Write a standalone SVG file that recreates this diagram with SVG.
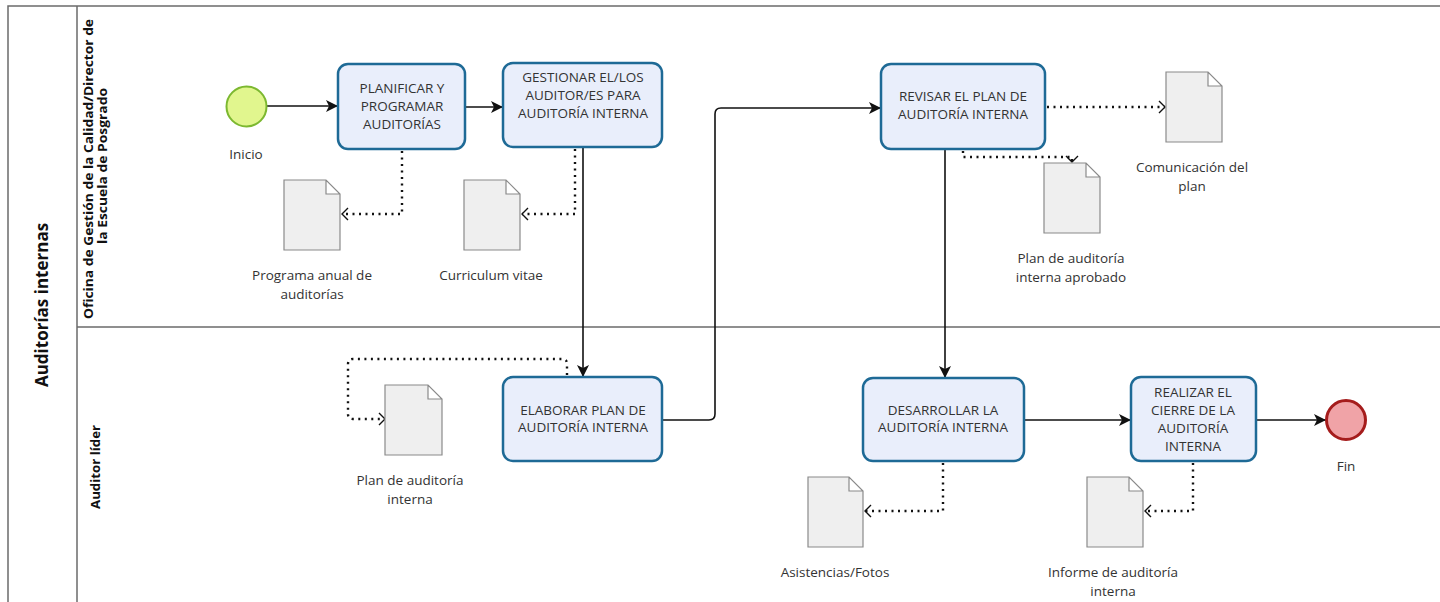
<svg xmlns="http://www.w3.org/2000/svg" width="1440" height="602" viewBox="0 0 1440 602">
<style>
.pool{fill:none;stroke:#6b6b6b;stroke-width:1.5}
.task{fill:#e9eefb;stroke:#1e6a96;stroke-width:2.5}
.tt{font-family:"Open Sans","Noto Sans",sans-serif;font-size:13.5px;fill:#333;text-anchor:middle}
.lbl{font-family:"Open Sans","Noto Sans",sans-serif;font-size:13.5px;fill:#333;text-anchor:middle}
.doc{fill:#efefef;stroke:#8a8a8a;stroke-width:1.2}
.flow{fill:none;stroke:#111;stroke-width:1.6}
.assoc{fill:none;stroke:#111;stroke-width:2.4;stroke-dasharray:2 4.5}
.lane{font-family:"Open Sans","Noto Sans",sans-serif;font-weight:bold;font-size:12.5px;fill:#111;text-anchor:middle}
</style>
<defs>
<marker id="arr" markerUnits="userSpaceOnUse" markerWidth="14" markerHeight="12" refX="12" refY="6" orient="auto">
<path d="M0,0 L12,6 L0,12 L3,6 Z" fill="#111"/>
</marker>
<marker id="open" markerUnits="userSpaceOnUse" markerWidth="10" markerHeight="14" refX="7" refY="7" orient="auto">
<path d="M1,1 L7,7 L1,13" fill="none" stroke="#111" stroke-width="1.4"/>
</marker>
</defs>
<rect width="1440" height="602" fill="#fff"/>
<g id="pool">
<path class="pool" d="M1440,6 H8 V602 M77,6 V602 M77,327 H1440"/>
<text transform="translate(48,305) rotate(-90)" font-family="'Open Sans','Noto Sans',sans-serif" font-size="17" font-weight="bold" fill="#111" text-anchor="middle">Auditorías internas</text>
<text class="lane" transform="translate(93,169) rotate(-90)" textLength="300" lengthAdjust="spacingAndGlyphs">Oficina de Gestión de la Calidad/Director de</text>
<text class="lane" transform="translate(107,166) rotate(-90)" textLength="156" lengthAdjust="spacingAndGlyphs">la Escuela de Posgrado</text>
<text class="lane" transform="translate(100,467) rotate(-90)" textLength="84" lengthAdjust="spacingAndGlyphs">Auditor líder</text>
</g>
<g id="connectors">
<path class="flow" d="M267,106 H338" marker-end="url(#arr)"/>
<path class="flow" d="M465,107 H503" marker-end="url(#arr)"/>
<path class="flow" d="M583,147 V377" marker-end="url(#arr)"/>
<path class="flow" d="M662,420 H709 Q715,420 715,414 V114 Q715,108 721,108 H881" marker-end="url(#arr)"/>
<path class="flow" d="M945,149 V378" marker-end="url(#arr)"/>
<path class="flow" d="M1024,420 H1131" marker-end="url(#arr)"/>
<path class="flow" d="M1256,420 H1326" marker-end="url(#arr)"/>
<path class="assoc" d="M402,151 V214 H342" marker-end="url(#open)"/>
<path class="assoc" d="M575,149 V214 H522" marker-end="url(#open)"/>
<path class="assoc" d="M1047,107 H1165" marker-end="url(#open)"/>
<path class="assoc" d="M963,151 V157 H1072 V162" marker-end="url(#open)"/>
<path class="assoc" d="M567,375 V364 Q567,359 562,359 H353 Q348,359 348,364 V414 Q348,419 353,419 H385" marker-end="url(#open)"/>
<path class="assoc" d="M943,463 V511 H865" marker-end="url(#open)"/>
<path class="assoc" d="M1193,463 V511 H1145" marker-end="url(#open)"/>
</g>
<g id="inicio">
<circle cx="246.5" cy="106.5" r="20" fill="#e1f68e" stroke="#7cb830" stroke-width="2"/>
<text class="lbl" x="246" y="159">Inicio</text>
</g>
<g id="planificar">
<rect class="task" x="338" y="64" width="127" height="85" rx="10"/>
<text class="tt" x="402" y="93">PLANIFICAR Y</text>
<text class="tt" x="402" y="111">PROGRAMAR</text>
<text class="tt" x="402" y="129">AUDITORÍAS</text>
</g>
<g id="gestionar">
<rect class="task" x="503" y="63" width="159" height="84" rx="10"/>
<text class="tt" x="583" y="82">GESTIONAR EL/LOS</text>
<text class="tt" x="583" y="100">AUDITOR/ES PARA</text>
<text class="tt" x="583" y="118">AUDITORÍA INTERNA</text>
</g>
<g id="revisar">
<rect class="task" x="881" y="64" width="164" height="85" rx="10"/>
<text class="tt" x="963" y="101">REVISAR EL PLAN DE</text>
<text class="tt" x="963" y="119">AUDITORÍA INTERNA</text>
</g>
<g id="elaborar">
<rect class="task" x="503" y="377" width="159" height="84" rx="10"/>
<text class="tt" x="583" y="415">ELABORAR PLAN DE</text>
<text class="tt" x="583" y="432">AUDITORÍA INTERNA</text>
</g>
<g id="desarrollar">
<rect class="task" x="863" y="378" width="161" height="83" rx="10"/>
<text class="tt" x="943" y="415">DESARROLLAR LA</text>
<text class="tt" x="943" y="432">AUDITORÍA INTERNA</text>
</g>
<g id="realizar">
<rect class="task" x="1131" y="377" width="125" height="84" rx="10"/>
<text class="tt" x="1193" y="397">REALIZAR EL</text>
<text class="tt" x="1193" y="415">CIERRE DE LA</text>
<text class="tt" x="1193" y="433">AUDITORÍA</text>
<text class="tt" x="1193" y="451">INTERNA</text>
</g>
<g id="fin">
<circle cx="1346" cy="420" r="19.5" fill="#f0a3a7" stroke="#a51c1c" stroke-width="3"/>
<text class="lbl" x="1346" y="471">Fin</text>
</g>
<g id="doc-programa">
<path class="doc" d="M284,180 H326 L340,194 V250 H284 Z M326,180 V194 H340"/>
<text class="lbl" x="312" y="280">Programa anual de</text>
<text class="lbl" x="312" y="299">auditorías</text>
</g>
<g id="doc-curriculum">
<path class="doc" d="M464,180 H506 L520,194 V250 H464 Z M506,180 V194 H520"/>
<text class="lbl" x="491" y="280">Curriculum vitae</text>
</g>
<g id="doc-comunicacion">
<path class="doc" d="M1166,72 H1208 L1222,86 V142 H1166 Z M1208,72 V86 H1222"/>
<text class="lbl" x="1192" y="172">Comunicación del</text>
<text class="lbl" x="1192" y="191">plan</text>
</g>
<g id="doc-aprobado">
<path class="doc" d="M1044,163 H1086 L1100,177 V233 H1044 Z M1086,163 V177 H1100"/>
<text class="lbl" x="1071" y="263">Plan de auditoría</text>
<text class="lbl" x="1071" y="282">interna aprobado</text>
</g>
<g id="doc-plan">
<path class="doc" d="M385,385 H428 L442,399 V455 H385 Z M428,385 V399 H442"/>
<text class="lbl" x="410" y="485">Plan de auditoría</text>
<text class="lbl" x="410" y="504">interna</text>
</g>
<g id="doc-asistencias">
<path class="doc" d="M808,477 H849 L863,491 V547 H808 Z M849,477 V491 H863"/>
<text class="lbl" x="835" y="577">Asistencias/Fotos</text>
</g>
<g id="doc-informe">
<path class="doc" d="M1087,477 H1129 L1143,491 V547 H1087 Z M1129,477 V491 H1143"/>
<text class="lbl" x="1113" y="577">Informe de auditoría</text>
<text class="lbl" x="1113" y="596">interna</text>
</g>
</svg>
